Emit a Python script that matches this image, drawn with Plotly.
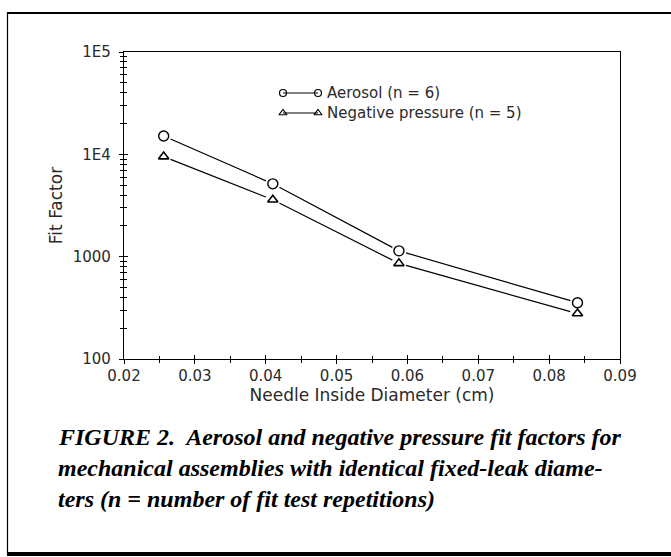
import plotly.graph_objects as go

# ---- data ----
diam = [0.0256, 0.0410, 0.0588, 0.0840]
aerosol = [15100, 5150, 1140, 355]
negative = [9500, 3600, 860, 278]
xtick_vals = [0.02, 0.03, 0.04, 0.05, 0.06, 0.07, 0.08, 0.09]
xtick_text = ["0.02", "0.03", "0.04", "0.05", "0.06", "0.07", "0.08", "0.09"]
ytick_vals = [100, 1000, 10000, 100000]
ytick_text = ["100", "1000", "1E4", "1E5"]
series_names = ["Aerosol (n = 6)", "Negative pressure (n = 5)"]
caption = [
    "FIGURE 2.  Aerosol and negative pressure fit factors for",
    "mechanical assemblies with identical fixed-leak diame-",
    "ters (n = number of fit test repetitions)",
]

W, H = 671, 557
L, R, T, B = 124, 620, 52, 359  # plot area in pixels

def px(x):
    return (x - L) / (R - L)

def py(y):
    return (B - y) / (B - T)

TICKFONT = dict(family="DejaVu Sans", size=15, color="#2a2a2a")
TITLEFONT = dict(family="DejaVu Sans", size=17, color="#2a2a2a")
minor_y = [m * 10 ** e for e in range(2, 5) for m in range(2, 10)]
minor_x = [0.025, 0.035, 0.045, 0.055, 0.065, 0.075, 0.085]

fig = go.Figure()

for vals in (aerosol, negative):
    fig.add_trace(go.Scatter(x=diam, y=vals, mode="lines",
                             line=dict(color="black", width=1.2),
                             showlegend=False, hoverinfo="skip"))
for vals in (aerosol, negative):
    fig.add_trace(go.Scatter(x=diam, y=vals, mode="markers",
                             marker=dict(color="white", size=15, line=dict(width=0)),
                             showlegend=False, hoverinfo="skip"))
fig.add_trace(go.Scatter(x=diam, y=aerosol, mode="markers", name=series_names[0],
                         marker=dict(symbol="circle-open", size=10, color="black",
                                     line=dict(width=1.4, color="black")),
                         showlegend=False))
fig.add_trace(go.Scatter(x=diam, y=negative, mode="markers", name=series_names[1],
                         marker=dict(symbol="triangle-up-open", size=9, color="black",
                                     line=dict(width=1.6, color="black")),
                         showlegend=False))

leg_rows = [93, 113]
leg_syms = ["circle-open", "triangle-up-open"]
for i, name in enumerate(series_names):
    yy = leg_rows[i]
    fig.add_trace(go.Scatter(x=[283, 318], y=[yy, yy], mode="lines+markers",
                             xaxis="x3", yaxis="y3",
                             line=dict(color="black", width=1.1),
                             marker=dict(symbol=leg_syms[i], size=7, color="black",
                                         line=dict(width=1.2, color="black")),
                             showlegend=False, hoverinfo="skip"))
    fig.add_annotation(x=325, y=yy, xref="x3", yref="y3", text=name,
                       showarrow=False, xanchor="left", yanchor="middle",
                       font=dict(family="DejaVu Sans", size=15, color="#2a2a2a"))

fig.add_trace(go.Scatter(x=[0.05], y=[1000], xaxis="x2", yaxis="y2", mode="markers",
                         marker=dict(opacity=0), showlegend=False, hoverinfo="skip"))

axis_common = dict(showgrid=False, zeroline=False, linecolor="black", linewidth=1.2,
                   tickcolor="black", tickwidth=1)

fig.update_layout(
    width=W, height=H,
    margin=dict(l=L, r=W - R, t=T, b=H - B),
    paper_bgcolor="white", plot_bgcolor="white",
    showlegend=False,
    xaxis=dict(range=[0.02, 0.09], tickmode="array", tickvals=xtick_vals, ticktext=xtick_text,
               ticks="outside", ticklen=4, showline=True, mirror=True,
               minor=dict(ticks="outside", ticklen=3, tickvals=minor_x, tickcolor="black"),
               tickfont=TICKFONT, ticklabelstandoff=-1,
               title=dict(text="Needle Inside Diameter (cm)", font=TITLEFONT, standoff=3),
               **axis_common),
    yaxis=dict(type="log", range=[2, 5], tickmode="array", tickvals=ytick_vals, ticktext=ytick_text,
               ticks="outside", ticklen=4, showline=True, mirror=True,
               minor=dict(ticks="outside", ticklen=3, tickvals=minor_y, tickcolor="black"),
               tickfont=TICKFONT, ticklabelstandoff=5,
               title=dict(text="Fit Factor", font=TITLEFONT, standoff=5),
               **axis_common),
    xaxis2=dict(range=[0.02, 0.09], overlaying="x", anchor="y2", tickmode="array", tickvals=xtick_vals,
                ticks="inside", ticklen=4, showticklabels=False, showline=False,
                minor=dict(ticks="inside", ticklen=3, tickvals=minor_x, tickcolor="black"),
                showgrid=False, zeroline=False, tickcolor="black", side="bottom"),
    yaxis2=dict(type="log", range=[2, 5], overlaying="y", anchor="x2", tickmode="array", tickvals=ytick_vals,
                ticks="inside", ticklen=4, showticklabels=False, showline=False,
                minor=dict(ticks="inside", ticklen=3, tickvals=minor_y, tickcolor="black"),
                showgrid=False, zeroline=False, tickcolor="black", side="left"),
    xaxis3=dict(range=[L, R], overlaying="x", anchor="y3", visible=False, fixedrange=True),
    yaxis3=dict(range=[B, T], overlaying="y", anchor="x3", visible=False, fixedrange=True),
)

fig.add_shape(type="line", xref="paper", yref="paper", x0=px(7), x1=px(671), y0=py(13), y1=py(13),
              line=dict(color="black", width=2))
fig.add_shape(type="line", xref="paper", yref="paper", x0=px(7), x1=px(671), y0=py(554), y1=py(554),
              line=dict(color="black", width=4))
fig.add_shape(type="line", xref="paper", yref="paper", x0=px(7.5), x1=px(7.5), y0=py(13), y1=py(554),
              line=dict(color="black", width=1.2))

cap_y = [437, 468, 499]
for txt, yy in zip(caption, cap_y):
    fig.add_annotation(x=px(56), y=py(yy), xref="paper", yref="paper", text="<b><i>" + txt + "</i></b>",
                       showarrow=False, xanchor="left", yanchor="middle",
                       font=dict(family="Liberation Serif", size=24, color="black"))

fig.write_html("out.html")
